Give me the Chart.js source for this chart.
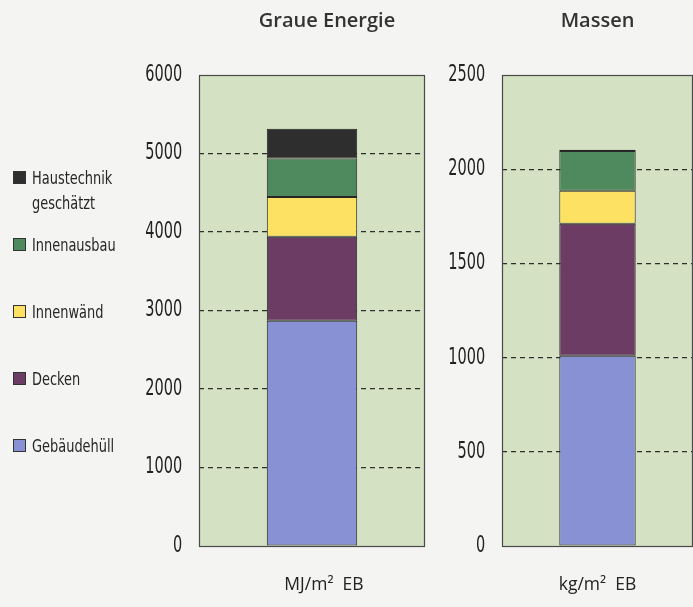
<!DOCTYPE html>
<html>
<head>
<meta charset="utf-8">
<script src="https://cdn.jsdelivr.net/npm/chart.js@4.4.1/dist/chart.umd.min.js"></script>
<style>
  html, body { margin: 0; padding: 0; background: #f4f4f2; }
  #wrap { position: relative; width: 693px; height: 607px; overflow: hidden; }
  #box1 { position: absolute; left: 109px; top: 0; width: 436px; height: 607px; }
  #box2 { position: absolute; left: 412px; top: 0; width: 281px; height: 607px; }
  #legend { position: absolute; left: 0; top: 0; width: 130px; height: 607px; z-index: 2;
    font-family: "DejaVu Sans Condensed", "DejaVu Sans", sans-serif;
    font-size: 18px; color: #262626; }
  .item { position: absolute; left: 13px; line-height: 25px; }
  .sw { position: absolute; left: 0; top: 6px; width: 11px; height: 11px; border: 1px solid #333; }
  .txt { position: absolute; left: 19px; top: 0; white-space: nowrap; display: inline-block;
    transform: scaleX(0.8); transform-origin: 0 0; }
</style>
</head>
<body>
<div id="wrap">
  <div id="box1"><canvas id="energyChart"></canvas></div>
  <div id="box2"><canvas id="massChart"></canvas></div>
  <div id="legend"></div>
</div>
<script>
// stack order bottom -> top
const segments = ['Gebäudehüll', 'Decken', 'Innenwänd', 'Innenausbau', 'Haustechnik geschätzt'];
const legendLines = [['Gebäudehüll'], ['Decken'], ['Innenwänd'], ['Innenausbau'], ['Haustechnik', 'geschätzt']];
const segmentColors = ['#8791d3', '#6c3c65', '#fde163', '#4f8a5e', '#2e2e2e'];

const energyLabels = ['MJ/m²  EB'];
const energyValues = [2870, 1070, 505, 490, 380];   // MJ/m2 EB
const energyMax = 6000, energyStep = 1000;

const massLabels = ['kg/m²  EB'];
const massValues = [1010, 700, 175, 212, 6];        // kg/m2 EB
const massMax = 2500, massStep = 500;

const tickFont = { family: '"DejaVu Sans Condensed", "DejaVu Sans", sans-serif', size: 23 };
const titleFont = { family: '"Open Sans", "Liberation Sans", sans-serif', size: 20, weight: 600 };
const unitFont = { family: '"Open Sans", "Liberation Sans", sans-serif', size: 17.5 };

// light green plot background + dark frame
const plotFrame = {
  id: 'plotFrame',
  beforeDraw(chart) {
    const { ctx, chartArea: a } = chart;
    ctx.save();
    ctx.fillStyle = '#d4e1c2';
    ctx.fillRect(a.left, a.top, a.right - a.left, a.bottom - a.top);
    ctx.restore();
  },
  beforeDatasetsDraw(chart) {
    const { ctx, chartArea: a } = chart;
    ctx.save();
    ctx.strokeStyle = '#4a4a4a';
    ctx.lineWidth = 1.2;
    ctx.strokeRect(a.left + 0.5, a.top + 0.5, a.right - a.left - 1, a.bottom - a.top);
    ctx.restore();
  }
};

// the original uses a very condensed face for the y numbers: squeeze the tick layer
const narrowTicks = {
  id: 'narrowTicks',
  afterLayout(chart) {
    const s = chart.scales.y;
    if (s._narrow) return;
    s._narrow = true;
    const draw = s.drawLabels.bind(s);
    s.drawLabels = (area) => {
      const ctx = chart.ctx;
      ctx.save();
      ctx.translate(s.right, 0);
      ctx.scale(0.7, 1);
      ctx.translate(-s.right, 0);
      draw(area);
      ctx.restore();
    };
  }
};

function buildDatasets(values) {
  return segments.map((name, i) => ({
    label: name,
    data: [values[i]],
    backgroundColor: segmentColors[i],
    borderColor: '#262626',
    borderWidth: 1,
    borderSkipped: false,
    categoryPercentage: 1,
    barPercentage: 0.4,
  }));
}

function makeChart(id, cfg) {
  const scales = {
    x: {
      stacked: true,
      grid: { display: false },
      border: { display: false },
      ticks: { font: unitFont, color: '#222', padding: 21, labelOffset: cfg.labelOffset },
      afterFit: (s) => { s.height = 61; }
    },
    y: {
      stacked: true,
      min: 0, max: cfg.max,
      grid: {
        drawTicks: false,
        color: (c) => (c.tick && (c.tick.value === 0 || c.tick.value === cfg.max)) ? 'rgba(0,0,0,0)' : '#2e2e2e',
        lineWidth: 1.2
      },
      border: { display: false, dash: [5, 4] },
      ticks: { stepSize: cfg.step, font: tickFont, color: '#222', padding: 24, callback: (v) => v },
      afterFit: (s) => { s.width = 90; }
    }
  };
  if (cfg.rightSpace) {
    // empty spacer on the right so the title sits where the original has it
    scales.spacer = {
      type: 'linear', position: 'right', display: true,
      grid: { display: false }, border: { display: false }, ticks: { display: false },
      afterFit: (s) => { s.width = cfg.rightSpace; }
    };
  }
  return new Chart(document.getElementById(id), {
    type: 'bar',
    data: { labels: cfg.labels, datasets: buildDatasets(cfg.values) },
    plugins: [plotFrame, narrowTicks],
    options: {
      responsive: true,
      maintainAspectRatio: false,
      animation: false,
      layout: { padding: 0 },
      plugins: {
        legend: { display: false },
        tooltip: { enabled: false },
        title: {
          display: true, text: cfg.title, font: titleFont, color: '#333',
          fullSize: cfg.fullTitle, padding: { top: 9, bottom: 42 }
        }
      },
      scales
    }
  });
}

makeChart('energyChart', {
  labels: energyLabels, values: energyValues, max: energyMax, step: energyStep,
  title: 'Graue Energie', fullTitle: true, rightSpace: 120, labelOffset: 12
});
makeChart('massChart', {
  labels: massLabels, values: massValues, max: massMax, step: massStep,
  title: 'Massen', fullTitle: false, rightSpace: 0, labelOffset: 0
});

// legend, top item first
const legendTops = [165, 232, 299, 366, 433];
const legendEl = document.getElementById('legend');
for (let k = 0; k < segments.length; k++) {
  const i = segments.length - 1 - k;
  const item = document.createElement('div');
  item.className = 'item';
  item.style.top = legendTops[k] + 'px';
  item.innerHTML = `<span class="sw" style="background:${segmentColors[i]}"></span>` +
    `<span class="txt">${legendLines[i].join('<br>')}</span>`;
  legendEl.appendChild(item);
}
</script>
</body>
</html>
